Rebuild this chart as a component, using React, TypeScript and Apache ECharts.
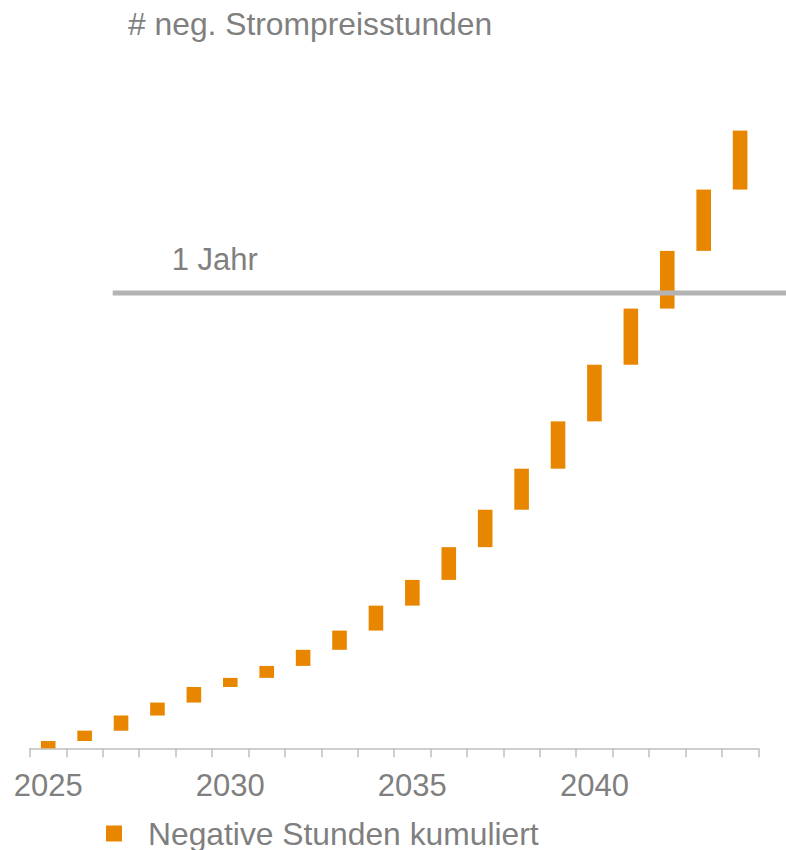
import { useEffect, useRef } from "react";
import * as echarts from "echarts";

const years = [
  "2025", "2026", "2027", "2028", "2029", "2030", "2031", "2032", "2033", "2034",
  "2035", "2036", "2037", "2038", "2039", "2040", "2041", "2042", "2043", "2044",
];
// negative price hours added in each year (waterfall increments)
const annualHours = [
  140, 200, 290, 250, 300, 175, 230, 310, 370, 480,
  495, 630, 720, 790, 910, 1090, 1080, 1110, 1180, 1135,
];
const oneYearHours = 8760;
const yMax = 12000;
const titleText = "# neg. Strompreisstunden";
const seriesName = "Negative Stunden kumuliert";
const refLabel = "1 Jahr";

const FONT = "'Liberation Sans', Arial, sans-serif";
const GRAY = "#7f7f7f";
const ORANGE = "#e98600";
const AXIS = "#bfbfbf";

export default function App() {
  const ref = useRef<HTMLDivElement>(null);
  useEffect(() => {
    const chart = echarts.init(ref.current!, null, { renderer: "svg" });
    const bases: number[] = [];
    let run = 0;
    annualHours.forEach((v) => {
      bases.push(run);
      run += v;
    });
    chart.setOption({
      animation: false,
      title: {
        text: titleText,
        left: 128,
        top: 8,
        padding: 0,
        textStyle: { color: GRAY, fontSize: 31.8, fontWeight: "normal", fontFamily: FONT, lineHeight: 31 },
      },
      legend: {
        data: [seriesName],
        left: 106,
        top: 817.5,
        padding: 0,
        icon: "rect",
        itemWidth: 16,
        itemHeight: 16,
        textStyle: { color: GRAY, fontSize: 31.8, fontFamily: FONT, lineHeight: 31, padding: [0, 0, 0, 21] },
        selectedMode: false,
      },
      grid: { left: 30, right: 27.7, top: 124.6, bottom: 101.7, outerBoundsMode: "none" },
      xAxis: {
        type: "category",
        data: years,
        boundaryGap: true,
        axisLine: { lineStyle: { color: AXIS, width: 1.5 } },
        axisTick: { show: true, length: 9, interval: 0, lineStyle: { color: AXIS, width: 1.5 } },
        axisLabel: { interval: 4, color: GRAY, fontSize: 31, fontFamily: FONT, margin: 22, lineHeight: 31 },
        splitLine: { show: false },
      },
      yAxis: { type: "value", min: 0, max: yMax, show: false, splitLine: { show: false } },
      series: [
        {
          type: "bar",
          stack: "w",
          data: bases,
          barWidth: 14.6,
          itemStyle: { color: "transparent" },
          silent: true,
          emphasis: { disabled: true },
        },
        {
          name: seriesName,
          type: "bar",
          stack: "w",
          data: annualHours,
          barWidth: 14.6,
          itemStyle: { color: ORANGE },
        },
      ],
    });
    const y = chart.convertToPixel({ yAxisIndex: 0 }, oneYearHours) as number;
    chart.setOption({
      graphic: [
        {
          type: "line",
          z: 100,
          shape: { x1: 112.7, y1: y, x2: 786, y2: y },
          style: { stroke: "#b3b3b3", lineWidth: 5 },
        },
        {
          type: "text",
          z: 100,
          x: 171.7,
          y: y - 33,
          style: {
            text: refLabel,
            fill: GRAY,
            fontSize: 31,
            fontFamily: FONT,
            align: "left",
            verticalAlign: "middle",
          },
        },
      ],
    });
    return () => chart.dispose();
  }, []);
  return <div ref={ref} style={{ position: "absolute", left: 0, top: 0, width: 786, height: 850 }} />;
}
